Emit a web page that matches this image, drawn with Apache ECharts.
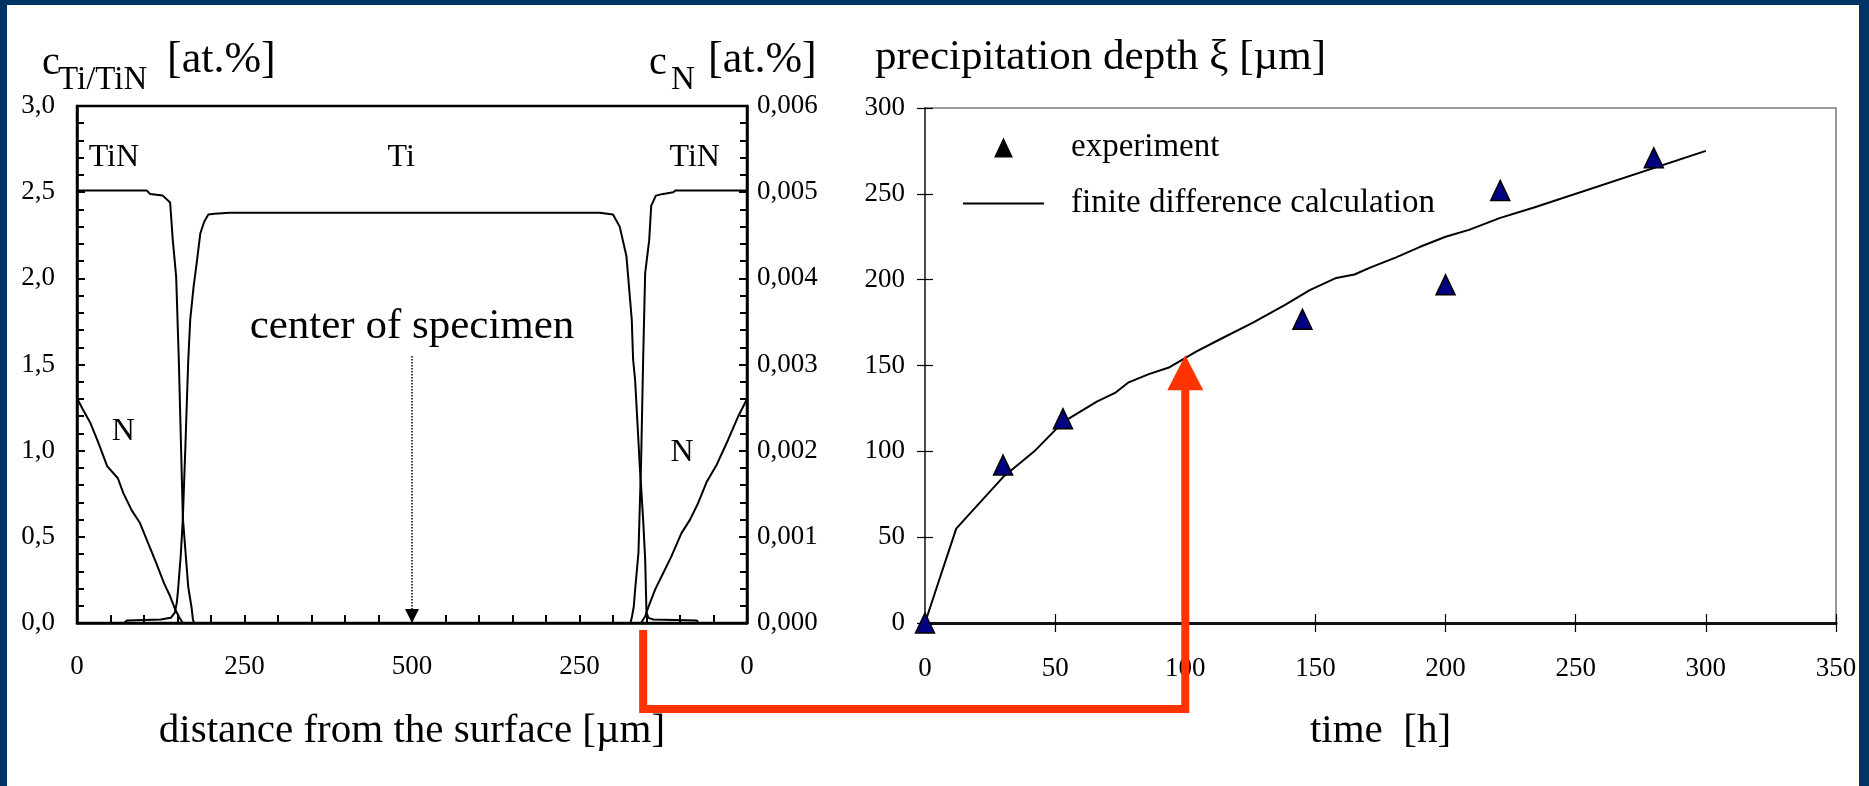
<!DOCTYPE html>
<html>
<head>
<meta charset="utf-8">
<title>TiN precipitation depth</title>
<script src="https://cdn.jsdelivr.net/npm/echarts@6/dist/echarts.min.js"></script>
<style>
  html, body { margin: 0; padding: 0; background: #003366; }
  #chart { width: 1869px; height: 786px; }
</style>
</head>
<body>
<div id="chart"></div>
<script>
// left panel: concentration profiles through the specimen
// distance runs 0..1000 um (surface - center - surface), labelled 0..500..0
const tinDist = [0, 104, 109, 128, 139, 143, 148, 152, 158, 166, 171, 173, 175, 826, 828, 831, 833, 838, 842, 845, 848, 854, 857, 864, 875, 890, 893, 1000];
const tinConc = [2.51, 2.51, 2.49, 2.48, 2.44, 2.22, 2.01, 1.52, 0.61, 0.21, 0.09, 0.02, 0, 0, 0.03, 0.096, 0.193, 0.407, 0.947, 1.53, 2.03, 2.22, 2.42, 2.48, 2.49, 2.5, 2.51, 2.51];

const tiDist = [0, 70, 75, 125, 140, 146, 149, 151, 155, 158, 162, 166, 169, 174, 179, 184, 190, 196, 205, 228, 780, 800, 810, 820, 828, 830, 833, 840, 845, 848, 850, 853, 860, 925, 928, 1000];
const tiConc = [0, 0, 0.015, 0.02, 0.03, 0.06, 0.12, 0.2, 0.4, 0.61, 1.05, 1.52, 1.76, 1.95, 2.1, 2.26, 2.33, 2.37, 2.375, 2.38, 2.38, 2.37, 2.3, 2.13, 1.76, 1.53, 1.41, 0.91, 0.6, 0.37, 0.06, 0.03, 0.02, 0.015, 0, 0];

// nitrogen, right axis [at.%]
const nDist = [0, 8, 20, 32, 45, 61, 69, 81.5, 94, 106, 118, 130, 139, 147, 153, 158, 842, 845, 848, 853, 863, 875, 887, 902, 915, 927, 940, 955, 972, 987, 1000];
const nConc = [0.00261, 0.00249, 0.00232, 0.00209, 0.00182, 0.00168, 0.00151, 0.00131, 0.00116, 0.00093, 0.0007, 0.00046, 0.00031, 0.00015, 0.00006, 0, 0, 0.00004, 0.000076, 0.00019, 0.00039, 0.00058, 0.00077, 0.00104, 0.0012, 0.00139, 0.00164, 0.00184, 0.00213, 0.0024, 0.0026];

const phaseLabels = ['TiN', 'Ti', 'TiN', 'N', 'N'];
const phaseLabelDist = [55, 484, 922, 69, 903];
const phaseLabelConc = [2.70, 2.70, 2.70, 1.11, 0.99];

const centerDist = 500;
const centerTextConc = 1.72;
const centerArrowTop = 1.55;
const centerArrowEnd = 0.04;

// right panel: precipitation depth vs time
const expTime = [0, 30, 53, 145, 200, 221, 280];
const expDepth = [0, 92, 119, 177, 197, 252, 271];

const calcTime = [0, 5, 12, 18, 30, 42, 53, 66, 73, 78, 86, 94, 104, 113, 126, 138, 148, 158, 165, 171, 181, 190, 200, 209, 221, 234, 300];
const calcDepth = [0, 23, 55, 65, 85, 100, 117, 129, 134, 140, 145, 149, 158, 165, 175, 185, 194, 201, 203, 207, 213, 219, 225, 229, 236, 242, 275];

// red arrow: front position in the profile -> depth at 100 h
const frontDist = 845;
const arrowTime = 100;
const arrowDepth = 156;

const FONT = "'Liberation Serif', 'Times New Roman', serif";
const RED = '#ff3300';

const zip = (xs, ys) => xs.map((x, i) => [x, ys[i]]);
const comma = (digits) => (v) => v.toFixed(digits).replace('.', ',');

const tickLabel = { fontFamily: FONT, fontSize: 27, color: '#000' };
const hiddenDot = { color: 'rgba(0,0,0,0)', opacity: 1 };

function titleText(id, text, x, y, size) {
  return {
    id, type: 'text', x, y, z: 10,
    style: { text, fontFamily: FONT, fontSize: size, fill: '#000', align: 'left', verticalAlign: 'middle' },
  };
}

const chart = echarts.init(document.getElementById('chart'));

chart.setOption({
  animation: false,
  backgroundColor: '#003366',
  graphic: [
    { id: 'panel', type: 'rect', z: -10, silent: true, shape: { x: 7, y: 5, width: 1852, height: 781 }, style: { fill: '#fff' } },
    titleText('lc', 'c', 42, 63, 40),
    titleText('lsub', 'Ti/TiN', 58, 80, 33),
    titleText('lunit', '[at.%]', 167, 60, 44),
    titleText('rc', 'c', 649, 63, 40),
    titleText('rsub', 'N', 671, 80, 33),
    titleText('runit', '[at.%]', 708, 60, 44),
    titleText('ptitle', 'precipitation depth \u03be [\u00b5m]', 875, 58, 43),
  ],
  grid: [
    { left: 77, top: 106, width: 670, height: 517, show: true, borderColor: '#000', borderWidth: 2.5, outerBoundsMode: 'none' },
    { left: 925, top: 108, width: 911, height: 515, show: true, borderColor: '#999', borderWidth: 2, outerBoundsMode: 'none' },
  ],
  legend: {
    orient: 'vertical',
    left: 963,
    top: 131,
    padding: 0,
    itemWidth: 81,
    itemHeight: 20,
    itemGap: 23,
    selectedMode: false,
    symbolKeepAspect: true,
    textStyle: { fontFamily: FONT, fontSize: 33, lineHeight: 33, color: '#000', padding: [0, 0, 0, 22] },
    data: [
      { name: 'experiment', icon: 'path://M8,0 L16,17 L0,17 Z', itemStyle: { color: '#000', borderWidth: 0 } },
      { name: 'finite difference calculation', icon: 'path://M0,0 H81 V2 H0 Z', itemStyle: { color: '#000', borderWidth: 0 } },
    ],
  },
  xAxis: [
    {
      gridIndex: 0, type: 'value', min: 0, max: 1000, interval: 250, position: 'bottom',
      name: 'distance from the surface [\u00b5m]', nameLocation: 'middle', nameGap: 88,
      nameTextStyle: { fontFamily: FONT, fontSize: 41, color: '#000' },
      axisLine: { onZero: false, lineStyle: { color: '#000', width: 2.5 } },
      axisTick: { inside: true, length: 8, lineStyle: { color: '#000', width: 2 } },
      minorTick: { show: true, splitNumber: 5, length: 8, lineStyle: { color: '#000', width: 2 } },
      axisLabel: { ...tickLabel, margin: 30, formatter: (v) => String(v <= 500 ? v : 1000 - v) },
      splitLine: { show: false },
    },
    {
      gridIndex: 1, type: 'value', min: 0, max: 350, interval: 50, position: 'bottom', offset: -9,
      name: 'time  [h]', nameLocation: 'middle', nameGap: 97,
      nameTextStyle: { fontFamily: FONT, fontSize: 41, color: '#000' },
      axisLine: { show: false, onZero: false },
      axisTick: { inside: false, length: 18, lineStyle: { color: '#000', width: 1.2 } },
      axisLabel: { ...tickLabel, margin: 41 },
      splitLine: { show: false },
    },
    {
      // bottom line of the time chart (drawn from the top slot moved down)
      gridIndex: 1, type: 'value', min: 0, max: 350, interval: 50, position: 'top', offset: -515,
      axisLine: { show: true, onZero: false, lineStyle: { color: '#111', width: 3 } },
      axisTick: { show: false }, axisLabel: { show: false }, splitLine: { show: false },
    },
  ],
  yAxis: [
    {
      gridIndex: 0, type: 'value', min: 0, max: 3, interval: 0.5, position: 'left',
      axisLine: { show: true, onZero: false, lineStyle: { color: '#000', width: 2.5 } },
      axisTick: { show: true, inside: true, length: 8, lineStyle: { color: '#000', width: 2 } },
      minorTick: { show: true, splitNumber: 5, length: 7, lineStyle: { color: '#000', width: 2 } },
      axisLabel: { ...tickLabel, margin: 22, formatter: comma(1) },
      splitLine: { show: false },
    },
    {
      gridIndex: 0, type: 'value', min: 0, max: 0.006, interval: 0.001, position: 'right',
      axisLine: { show: true, onZero: false, lineStyle: { color: '#000', width: 2.5 } },
      axisTick: { show: true, inside: true, length: 8, lineStyle: { color: '#000', width: 2 } },
      minorTick: { show: true, splitNumber: 5, length: 7, lineStyle: { color: '#000', width: 2 } },
      axisLabel: { ...tickLabel, margin: 10, formatter: comma(3) },
      splitLine: { show: false },
    },
    {
      gridIndex: 1, type: 'value', min: 0, max: 300, interval: 50, position: 'left', offset: -8,
      axisLine: { show: false, onZero: false },
      axisTick: { show: true, inside: false, length: 16, lineStyle: { color: '#000', width: 1.2 } },
      axisLabel: { ...tickLabel, margin: 28 },
      splitLine: { show: false },
    },
    {
      gridIndex: 1, type: 'value', min: 0, max: 300, interval: 50, position: 'right', offset: -911,
      axisLine: { show: true, onZero: false, lineStyle: { color: '#333', width: 1.5 } },
      axisTick: { show: false }, axisLabel: { show: false }, splitLine: { show: false },
    },
  ],
  series: [
    {
      name: 'TiN', type: 'line', xAxisIndex: 0, yAxisIndex: 0, symbol: 'none',
      lineStyle: { color: '#000', width: 2 }, data: zip(tinDist, tinConc),
    },
    {
      name: 'Ti', type: 'line', xAxisIndex: 0, yAxisIndex: 0, symbol: 'none',
      lineStyle: { color: '#000', width: 2 }, data: zip(tiDist, tiConc),
    },
    {
      name: 'N', type: 'line', xAxisIndex: 0, yAxisIndex: 1, symbol: 'none',
      lineStyle: { color: '#000', width: 2 }, data: zip(nDist, nConc),
    },
    {
      name: 'phases', type: 'scatter', xAxisIndex: 0, yAxisIndex: 0, symbolSize: 1, silent: true,
      itemStyle: hiddenDot,
      label: { show: true, position: 'inside', formatter: (p) => p.name, fontFamily: FONT, fontSize: 32, color: '#000', opacity: 1 },
      data: phaseLabels.map((t, i) => ({ name: t, value: [phaseLabelDist[i], phaseLabelConc[i]] })),
    },
    {
      name: 'center', type: 'scatter', xAxisIndex: 0, yAxisIndex: 0, symbolSize: 1, silent: true,
      itemStyle: hiddenDot,
      label: { show: true, position: 'inside', formatter: 'center of specimen', fontFamily: FONT, fontSize: 43, color: '#000', opacity: 1 },
      data: [[centerDist, centerTextConc]],
      markLine: {
        silent: true,
        label: { show: false },
        lineStyle: { color: '#000', width: 1.5, type: 'dotted' },
        data: [[
          { coord: [centerDist, centerArrowTop], symbol: 'none' },
          { coord: [centerDist, centerArrowEnd], symbol: 'triangle', symbolSize: 14 },
        ]],
      },
    },
    {
      name: 'finite difference calculation', type: 'line', xAxisIndex: 1, yAxisIndex: 2, symbol: 'none',
      lineStyle: { color: '#000', width: 2 }, itemStyle: { color: '#000' },
      data: zip(calcTime, calcDepth),
    },
    {
      name: 'experiment', type: 'scatter', xAxisIndex: 1, yAxisIndex: 2, clip: false, z: 5,
      symbol: 'triangle', symbolSize: [19, 20],
      itemStyle: { color: '#000080', borderColor: '#000', borderWidth: 1.5, opacity: 1 },
      data: zip(expTime, expDepth),
    },
  ],
});

// red connector arrow, anchored through both coordinate systems
const from = chart.convertToPixel({ xAxisIndex: 0, yAxisIndex: 0 }, [frontDist, 0]);
const tip = chart.convertToPixel({ xAxisIndex: 1, yAxisIndex: 2 }, [arrowTime, arrowDepth]);
const barY = 709;
const headH = 35;
const headW = 36;

chart.setOption({
  graphic: [
    {
      id: 'arrowShaft', type: 'polyline', z: 20, silent: true,
      shape: { points: [[from[0], from[1] + 7], [from[0], barY], [tip[0], barY], [tip[0], tip[1] + headH - 2]] },
      style: { stroke: RED, lineWidth: 8, lineJoin: 'miter', fill: null },
    },
    {
      id: 'arrowHead', type: 'polygon', z: 20, silent: true,
      shape: { points: [[tip[0] - headW / 2, tip[1] + headH], [tip[0] + headW / 2, tip[1] + headH], [tip[0], tip[1]]] },
      style: { fill: RED },
    },
  ],
});

window.addEventListener('resize', () => chart.resize());
</script>
</body>
</html>
